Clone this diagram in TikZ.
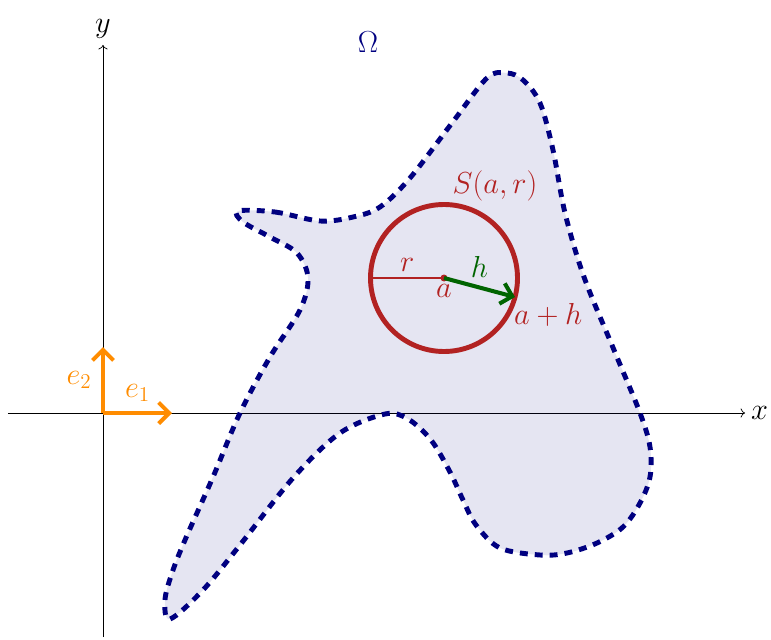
\documentclass[tikz,border=0pt]{standalone}
\usetikzlibrary{arrows.meta,calc}
\definecolor{navy}{RGB}{0,0,128}
\definecolor{firebrick}{RGB}{178,34,34}
\definecolor{darkgreen}{RGB}{0,100,0}
\definecolor{darkorange}{RGB}{255,140,0}
\begin{document}
\begin{tikzpicture}[font=\LARGE,
    basis/.style={darkorange,line width=2.3pt,-{Straight Barb[length=6pt,width=12pt]}},
    rim/.style={draw=navy,line width=2.8pt,dash pattern=on 4.5pt off 4pt}]
  \useasboundingbox (-2.06,-4.52) rectangle (13.36,8.26);
  % axes
  \draw[->] (-1.9,0) -- (12.84,0) node[right] (xl) {$x$};
  \draw[->] (0,-4.48) -- (0,7.36) node[above] (yl) {$y$};
  % the domain
  \path[fill=navy,fill opacity=0.1,rim] plot[smooth cycle,tension=0.55] coordinates {
    (2.70,4.04) (3.44,4.02) (4.34,3.84) (5.00,3.92) (5.54,4.12) (6.14,4.70)
    (6.98,5.80) (7.68,6.70) (8.08,6.80) (8.40,6.66) (8.74,6.20) (9.00,5.26)
    (9.24,4.00) (9.62,2.72) (10.22,1.26) (10.74,0.00) (10.94,-0.68)
    (10.94,-1.28) (10.74,-1.80) (10.40,-2.28) (9.88,-2.60) (9.28,-2.80)
    (8.74,-2.84) (7.94,-2.70) (7.46,-2.24) (7.20,-1.74) (6.94,-1.18)
    (6.56,-0.54) (6.10,-0.12) (5.64,-0.02) (4.74,-0.40) (3.80,-1.30)
    (2.74,-2.64) (2.00,-3.54) (1.34,-4.12) (1.24,-3.74) (1.38,-3.20)
    (1.64,-2.54) (2.20,-1.28) (2.74,0.00) (3.34,1.12) (3.94,2.06)
    (4.10,2.70) (3.88,3.20) (3.34,3.52) (2.80,3.82)};
  \node[navy] (om) at (5.3,7.42) {$\Omega$};
  % basis vectors
  \coordinate (o) at (0,0);
  \draw[basis] (o) -- (1.38,0) node[midway,above,yshift=2pt] (e1) {$e_1$};
  \draw[basis] (o) -- (0,1.32) node[midway,left,xshift=-2pt] (e2) {$e_2$};
  % the sphere
  \coordinate (a) at (6.82,2.70);
  \coordinate (ah) at ($(a)+(-15:1.47)$);
  \draw[firebrick,line width=2.8pt] (a) circle (1.47);
  \draw[firebrick,line width=1pt] (a) -- ++(-1.47,0) node[midway,above] (r) {$r$};
  \fill[firebrick] (a) circle (0.07);
  \draw[darkgreen,line width=2.3pt,-{Straight Barb[length=6pt,width=12pt]}] (a) -- (ah)
    node[midway,above,yshift=1pt] (h) {$h$};
  \node[firebrick,below] (al) at (a) {$a$};
  \node[firebrick,below right,xshift=-4pt] (ahl) at (ah) {$a+h$};
  \node[firebrick] (S) at (7.84,4.54) {$S(a,r)$};
\end{tikzpicture}
\end{document}
